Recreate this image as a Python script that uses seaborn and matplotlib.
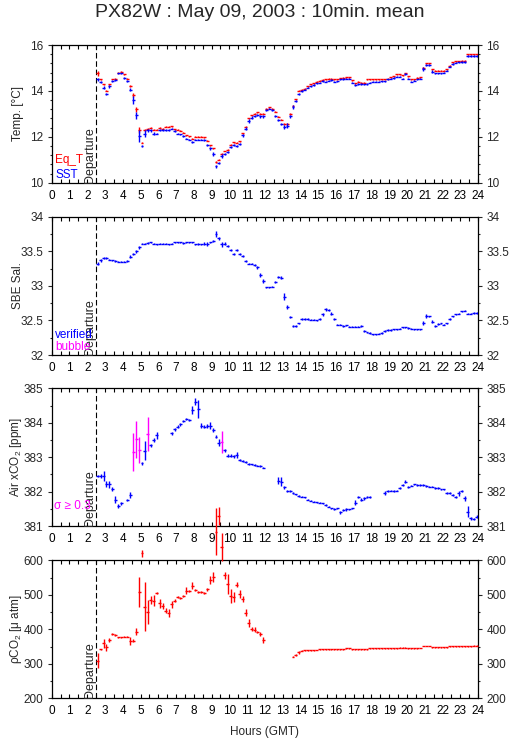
"""
PX82W underway record, 10-min means: temperature, salinity, air xCO2, pCO2.
Output: out.png
"""
import numpy as np
import matplotlib
matplotlib.use("Agg")
import matplotlib.pyplot as plt
from matplotlib.ticker import MultipleLocator
import seaborn as sns

sns.set_theme(style="ticks")
plt.rcParams["font.family"] = ["Liberation Sans", "DejaVu Sans"]
plt.rcParams["mathtext.fontset"] = "custom"
plt.rcParams["mathtext.rm"] = "Liberation Sans"
plt.rcParams["mathtext.it"] = "Liberation Sans:italic"
plt.rcParams["mathtext.default"] = "rm"

BLUE, RED, MAGENTA = "#0000FF", "#FF0000", "#FF00FF"
NAN = np.nan

# 10-minute bins from departure (02:30 GMT) to 24:00
START_HOUR = 2.5
BIN_H = 1 / 6
DEPARTURE = 2.5

# one row per hour (first row: 02:30-03:00)
SST = [
    14.50, 14.40, 14.14,
    13.86, 14.20, 14.44, 14.47, 14.76, 14.76,
    14.57, 14.44, 14.06, 13.60, 12.94, 12.03,
    11.60, 12.14, 12.28, 12.28, 12.14, 12.14,
    12.30, 12.28, 12.30, 12.30, 12.36, 12.26,
    12.14, 12.11, 12.03, 11.92, 11.88, 11.78,
    11.88, 11.88, 11.88, 11.86, 11.63, 11.49,
    11.24, 10.72, 10.86, 11.15, 11.24, 11.34,
    11.56, 11.66, 11.60, 11.70, 12.07, 12.36,
    12.70, 12.84, 12.90, 12.94, 12.90, 12.90,
    13.16, 13.23, 13.16, 12.90, 12.72, 12.55,
    12.43, 12.48, 12.90, 13.30, 13.57, 13.85,
    14.00, 14.06, 14.14, 14.20, 14.25, 14.33,
    14.36, 14.43, 14.40, 14.44, 14.47, 14.40,
    14.42, 14.50, 14.52, 14.54, 14.54, 14.36,
    14.25, 14.30, 14.30, 14.29, 14.30, 14.36,
    14.40, 14.40, 14.40, 14.42, 14.42, 14.50,
    14.54, 14.57, 14.62, 14.62, 14.54, 14.72,
    14.54, 14.40, 14.44, 14.50, 14.54, 14.94,
    15.13, 15.13, 14.84, 14.76, 14.76, 14.76,
    14.80, 14.88, 15.05, 15.17, 15.23, 15.25,
    15.27, 15.27, 15.52, 15.52, 15.52, 15.52,
]
SST_SD = [
    0.08, 0.05, 0.06,
    0.04, 0.07, 0.05, 0.05, 0.03, 0.03,
    0.05, 0.05, 0.06, 0.18, 0.15, 0.25,
    0.05, 0.14, 0.06, 0.05, 0.05, 0.04,
    0.04, 0.04, 0.03, 0.03, 0.04, 0.04,
    0.04, 0.03, 0.03, 0.03, 0.03, 0.05,
    0.03, 0.03, 0.03, 0.03, 0.05, 0.05,
    0.08, 0.06, 0.05, 0.08, 0.05, 0.04,
    0.04, 0.04, 0.06, 0.05, 0.07, 0.05,
    0.08, 0.06, 0.04, 0.04, 0.06, 0.06,
    0.04, 0.04, 0.04, 0.05, 0.04, 0.05,
    0.08, 0.10, 0.07, 0.10, 0.05, 0.05,
    0.03, 0.03, 0.03, 0.03, 0.03, 0.03,
    0.03, 0.03, 0.03, 0.03, 0.03, 0.03,
    0.03, 0.03, 0.03, 0.03, 0.03, 0.03,
    0.03, 0.03, 0.03, 0.03, 0.03, 0.03,
    0.03, 0.03, 0.03, 0.03, 0.03, 0.03,
    0.03, 0.03, 0.03, 0.03, 0.03, 0.04,
    0.03, 0.03, 0.03, 0.03, 0.03, 0.08,
    0.06, 0.04, 0.05, 0.03, 0.03, 0.03,
    0.03, 0.03, 0.03, 0.03, 0.03, 0.03,
    0.05, 0.04, 0.04, 0.03, 0.03, 0.03,
]
EQ_T = [
    14.76, 14.50, 14.28,
    14.00, 14.28, 14.52, 14.54, 14.80, 14.84,
    14.72, 14.54, 14.22, 13.82, 13.20, 12.30,
    11.74, 12.30, 12.36, 12.40, 12.30, 12.30,
    12.40, 12.36, 12.43, 12.43, 12.46, 12.32,
    12.30, 12.27, 12.17, 12.07, 12.02, 11.92,
    12.00, 12.00, 12.00, 11.97, 11.82, 11.63,
    11.49, 10.90, 11.00, 11.27, 11.38, 11.44,
    11.66, 11.76, 11.74, 11.80, 12.15, 12.43,
    12.80, 12.94, 13.00, 13.07, 13.00, 13.00,
    13.23, 13.28, 13.23, 13.09, 12.87, 12.75,
    12.55, 12.55, 13.00, 13.36, 13.63, 14.00,
    14.05, 14.10, 14.20, 14.28, 14.33, 14.40,
    14.44, 14.48, 14.50, 14.53, 14.53, 14.50,
    14.50, 14.56, 14.58, 14.60, 14.60, 14.47,
    14.33, 14.40, 14.36, 14.36, 14.50, 14.50,
    14.50, 14.50, 14.50, 14.50, 14.50, 14.54,
    14.60, 14.64, 14.72, 14.72, 14.68, 14.76,
    14.64, 14.50, 14.50, 14.57, 14.60, 15.00,
    15.20, 15.20, 14.94, 14.88, 14.88, 14.88,
    14.88, 14.94, 15.10, 15.24, 15.30, 15.30,
    15.32, 15.32, 15.60, 15.60, 15.60, 15.60,
]
EQ_T_SD = [
    0.10, 0.03, 0.03,
    0.02, 0.02, 0.02, 0.02, 0.02, 0.02,
    0.02, 0.02, 0.03, 0.08, 0.10, 0.12,
    0.03, 0.03, 0.02, 0.02, 0.02, 0.02,
    0.02, 0.02, 0.02, 0.02, 0.02, 0.02,
    0.02, 0.02, 0.02, 0.02, 0.02, 0.02,
    0.02, 0.02, 0.02, 0.02, 0.02, 0.02,
    0.03, 0.03, 0.02, 0.03, 0.02, 0.02,
    0.02, 0.02, 0.02, 0.02, 0.03, 0.02,
    0.03, 0.02, 0.02, 0.02, 0.02, 0.02,
    0.02, 0.02, 0.02, 0.02, 0.02, 0.02,
    0.03, 0.03, 0.03, 0.03, 0.02, 0.02,
    0.02, 0.02, 0.02, 0.02, 0.02, 0.02,
    0.02, 0.02, 0.02, 0.02, 0.02, 0.02,
    0.02, 0.02, 0.02, 0.02, 0.02, 0.02,
    0.02, 0.02, 0.02, 0.02, 0.02, 0.02,
    0.02, 0.02, 0.02, 0.02, 0.02, 0.02,
    0.02, 0.02, 0.02, 0.02, 0.02, 0.02,
    0.02, 0.02, 0.02, 0.02, 0.02, 0.03,
    0.02, 0.02, 0.02, 0.02, 0.02, 0.02,
    0.02, 0.02, 0.02, 0.02, 0.02, 0.02,
    0.02, 0.02, 0.02, 0.02, 0.02, 0.02,
]
SAL = [
    33.32, 33.37, 33.40,
    33.41, 33.38, 33.37, 33.36, 33.35, 33.35,
    33.35, 33.36, 33.42, 33.46, 33.50, 33.56,
    33.61, 33.61, 33.62, 33.63, 33.61, 33.60,
    33.61, 33.61, 33.61, 33.60, 33.61, 33.63,
    33.63, 33.63, 33.62, 33.63, 33.63, 33.63,
    33.60, 33.60, 33.60, 33.61, 33.61, 33.63,
    33.65, 33.75, 33.69, 33.60, 33.61, 33.58,
    33.52, 33.46, 33.52, 33.46, 33.43, 33.36,
    33.32, 33.32, 33.30, 33.27, 33.16, 33.07,
    32.98, 32.98, 32.99, 33.05, 33.13, 33.12,
    32.84, 32.70, 32.55, 32.42, 32.42, 32.46,
    32.52, 32.52, 32.52, 32.51, 32.51, 32.50,
    32.52, 32.59, 32.66, 32.65, 32.60, 32.52,
    32.44, 32.44, 32.42, 32.43, 32.41, 32.41,
    32.41, 32.41, 32.42, 32.35, 32.33, 32.32,
    32.30, 32.30, 32.31, 32.32, 32.35, 32.36,
    32.36, 32.37, 32.37, 32.38, 32.40, 32.40,
    32.39, 32.38, 32.37, 32.37, 32.37, 32.46,
    32.56, 32.56, 32.48, 32.42, 32.45, 32.46,
    32.44, 32.46, 32.52, 32.56, 32.59, 32.60,
    32.63, 32.64, 32.60, 32.60, 32.61, 32.61,
]
SAL_SD = [
    0.02, 0.02, 0.015,
    0.015, 0.01, 0.01, 0.01, 0.01, 0.01,
    0.01, 0.01, 0.02, 0.02, 0.02, 0.02,
    0.01, 0.01, 0.01, 0.01, 0.01, 0.01,
    0.01, 0.01, 0.01, 0.01, 0.01, 0.01,
    0.01, 0.01, 0.01, 0.01, 0.01, 0.01,
    0.01, 0.015, 0.01, 0.02, 0.03, 0.01,
    0.015, 0.04, 0.02, 0.04, 0.02, 0.015,
    0.02, 0.02, 0.02, 0.02, 0.015, 0.01,
    0.01, 0.01, 0.015, 0.02, 0.03, 0.03,
    0.01, 0.01, 0.01, 0.015, 0.02, 0.02,
    0.05, 0.03, 0.015, 0.02, 0.01, 0.01,
    0.01, 0.01, 0.01, 0.01, 0.01, 0.01,
    0.01, 0.02, 0.02, 0.01, 0.015, 0.01,
    0.01, 0.01, 0.01, 0.01, 0.01, 0.01,
    0.01, 0.01, 0.01, 0.01, 0.01, 0.01,
    0.01, 0.01, 0.01, 0.01, 0.01, 0.01,
    0.01, 0.01, 0.01, 0.01, 0.01, 0.01,
    0.01, 0.01, 0.01, 0.01, 0.01, 0.03,
    0.03, 0.01, 0.02, 0.01, 0.01, 0.01,
    0.01, 0.01, 0.01, 0.01, 0.01, 0.01,
    0.01, 0.01, 0.01, 0.01, 0.01, 0.01,
]
XCO2 = [
    382.45, 382.45, 382.45,
    382.22, 382.21, 382.08, 381.76, 381.58, 381.66,
    NAN, 381.76, 381.90, 383.16, 383.52, 383.20,
    382.82, 383.19, 383.67, 383.34, 383.50, 383.64,
    NAN, NAN, NAN, NAN, 383.69, 383.81,
    383.89, 383.96, 384.04, 384.10, 384.08, 384.37,
    384.61, 384.39, 383.91, 383.89, 383.91, 383.91,
    383.79, 383.60, 383.42, 383.45, 383.20, 383.04,
    383.04, 383.03, 383.06, 382.92, 382.89, 382.85,
    382.80, 382.79, 382.77, 382.75, 382.74, 382.70,
    NAN, NAN, NAN, NAN, 382.31, 382.29,
    382.12, 382.02, 382.02, 381.95, 381.92, 381.87,
    381.85, 381.83, 381.77, 381.74, 381.71, 381.69,
    381.68, 381.66, 381.61, 381.56, 381.51, 381.49,
    381.51, 381.40, 381.46, 381.48, 381.48, 381.51,
    381.68, 381.83, 381.77, 381.80, 381.83, 381.83,
    NAN, NAN, NAN, NAN, 381.95, 382.02,
    382.03, 382.02, 382.03, 382.10, 382.19, 382.29,
    382.14, 382.17, 382.21, 382.19, 382.19, 382.19,
    382.16, 382.14, 382.14, 382.11, 382.10, 382.07,
    382.07, 381.97, 381.97, 381.90, 381.83, 381.95,
    382.02, 381.80, 381.42, 381.22, 381.20, 381.27,
]
XCO2_SD = [
    0.04, 0.05, 0.15,
    0.10, 0.10, 0.05, 0.10, 0.05, 0.04,
    NAN, 0.03, 0.10, 0.55, 0.53, 0.38,
    0.05, 0.28, 0.50, 0.05, 0.05, 0.10,
    NAN, NAN, NAN, NAN, 0.05, 0.04,
    0.04, 0.04, 0.03, 0.03, 0.04, 0.12,
    0.10, 0.26, 0.07, 0.05, 0.05, 0.10,
    0.05, 0.05, 0.10, 0.32, 0.05, 0.04,
    0.04, 0.04, 0.08, 0.03, 0.03, 0.03,
    0.02, 0.02, 0.02, 0.02, 0.02, 0.02,
    NAN, NAN, NAN, NAN, 0.10, 0.12,
    0.05, 0.03, 0.03, 0.03, 0.02, 0.02,
    0.02, 0.02, 0.02, 0.02, 0.02, 0.02,
    0.02, 0.02, 0.02, 0.02, 0.02, 0.02,
    0.02, 0.05, 0.02, 0.03, 0.02, 0.02,
    0.08, 0.03, 0.04, 0.03, 0.03, 0.03,
    NAN, NAN, NAN, NAN, 0.06, 0.03,
    0.02, 0.02, 0.02, 0.03, 0.03, 0.05,
    0.03, 0.02, 0.02, 0.02, 0.02, 0.02,
    0.02, 0.02, 0.02, 0.02, 0.02, 0.02,
    0.02, 0.03, 0.03, 0.04, 0.03, 0.08,
    0.04, 0.08, 0.15, 0.05, 0.03, 0.04,
]
PCO2 = [
    309, 342, 359,
    348, 369, 386, 383, 377, 377,
    379, 379, 367, 367, 393, 509,
    620, 466, 451, 485, 483, 504,
    475, 468, 454, 448, 473, 483,
    493, 490, 497, 512, 511, 526,
    514, 509, 508, 504, 516, 543,
    551, 683, 728, 639, 557, 531,
    497, 493, 529, 502, 488, 448,
    418, 401, 399, 392, 386, 369,
    NAN, NAN, NAN, NAN, NAN, NAN,
    NAN, NAN, NAN, 321, 326, 333,
    338, 339, 339, 339, 339, 340,
    342, 342, 342, 342, 342, 342,
    342, 342, 342, 345, 345, 342,
    342, 342, 342, 342, 342, 345,
    345, 345, 345, 345, 345, 345,
    345, 345, 345, 347, 347, 347,
    345, 345, 345, 345, 346, 352,
    352, 352, 348, 348, 348, 348,
    348, 348, 351, 351, 351, 351,
    351, 351, 351, 351, 353, 353,
]
PCO2_SD = [
    22, 2, 13,
    10, 5, 3, 2, 2, 2,
    2, 2, 12, 5, 10, 43,
    10, 70, 35, 12, 15, 3,
    12, 8, 8, 12, 10, 5,
    3, 3, 3, 10, 4, 10,
    4, 3, 3, 3, 4, 12,
    15, 68, 27, 40, 10, 30,
    20, 15, 7, 12, 8, 10,
    12, 5, 8, 4, 5, 8,
    NAN, NAN, NAN, NAN, NAN, NAN,
    NAN, NAN, NAN, 2, 2, 5,
    2, 1, 1, 1, 1, 1,
    1, 1, 1, 1, 1, 1,
    1, 1, 1, 1, 1, 1,
    1, 1, 1, 1, 1, 1,
    1, 1, 1, 1, 1, 1,
    1, 1, 1, 1, 1, 1,
    1, 1, 1, 1, 1, 1,
    1, 1, 1, 1, 1, 1,
    1, 1, 1, 1, 1, 1,
    1, 1, 1, 1, 1, 1,
]
SIGMA_FLAG = 0.3

# panel y ranges, major / minor tick steps
PANELS = [
    dict(ylabel="Temp. [°C]", ylim=(10, 16), major=2, minor=0.4),
    dict(ylabel="SBE Sal.", ylim=(32, 34), major=0.5, minor=0.25),
    dict(ylabel="Air xCO$_2$ [ppm]", ylim=(381, 385), major=1, minor=0.5),
    dict(ylabel="ρCO$_2$ [μ atm]", ylim=(200, 600), major=100, minor=50),
]
# axes boxes in figure fraction (left, bottom, width, height)
BOXES = [
    (0.1004, 0.7528, 0.8278, 0.1863),
    (0.1004, 0.5196, 0.8278, 0.1871),
    (0.1004, 0.2882, 0.8278, 0.1863),
    (0.1004, 0.0551, 0.8278, 0.1867),
]


def fmt_tick(v, _pos):
    return f"{v:g}"


def bars(ax, x, y, sd, color, clip=True):
    eb = ax.errorbar(x, y, xerr=BIN_H / 2, yerr=sd, fmt="none",
                     ecolor=color, elinewidth=1.0, capsize=0, zorder=3)
    if not clip:
        for coll in eb.lines[2]:
            coll.set_clip_on(False)
    return eb


def main():
    hours = START_HOUR + BIN_H / 2 + np.arange(len(SST)) * BIN_H

    fig = plt.figure(figsize=(5.15, 7.39), dpi=100)
    axes = [fig.add_axes(b) for b in BOXES]

    for ax, p in zip(axes, PANELS):
        ax.set_xlim(0, 24)
        ax.set_ylim(*p["ylim"])
        ax.xaxis.set_major_locator(MultipleLocator(1))
        ax.xaxis.set_minor_locator(MultipleLocator(0.5))
        ax.yaxis.set_major_locator(MultipleLocator(p["major"]))
        ax.yaxis.set_minor_locator(MultipleLocator(p["minor"]))
        ax.yaxis.set_major_formatter(fmt_tick)
        ax.tick_params(axis="x", which="both", direction="in", top=True,
                       bottom=True, length=3, width=0.8, labelsize=8.5, pad=5,
                       colors="black")
        ax.tick_params(axis="y", which="major", direction="out", left=True,
                       right=True, labelleft=True, labelright=True,
                       length=3, width=0.8, labelsize=8.5, pad=3)
        ax.tick_params(axis="y", which="minor", direction="out", left=True,
                       right=True, length=1.6, width=0.8)
        for s in ax.spines.values():
            s.set_linewidth(0.9)
            s.set_color("black")
        ax.set_ylabel(p["ylabel"], fontsize=8.5)
        ax.yaxis.set_label_coords(-0.064, 0.5)
        ax.axvline(DEPARTURE, color="black", lw=0.8, ls=(0, (5, 2.5)), zorder=2)
        ax.text(DEPARTURE, p["ylim"][0], "Departure", rotation=90,
                ha="right", va="bottom", fontsize=9)
        ax.grid(False)

    # temperature
    ax = axes[0]
    bars(ax, hours, EQ_T, EQ_T_SD, RED)
    bars(ax, hours, SST, SST_SD, BLUE)
    ax.text(0.008, 0.14, "Eq_T", color=RED, transform=ax.transAxes, fontsize=8.5)
    ax.text(0.008, 0.035, "SST", color=BLUE, transform=ax.transAxes, fontsize=8.5)

    # salinity
    ax = axes[1]
    bars(ax, hours, SAL, SAL_SD, BLUE)
    ax.text(0.008, 0.125, "verified", color=BLUE, transform=ax.transAxes, fontsize=8.5)
    ax.text(0.008, 0.035, "bubble", color=MAGENTA, transform=ax.transAxes, fontsize=8.5)

    # air xCO2, flagged when sigma >= 0.3
    ax = axes[2]
    xco2 = np.array(XCO2)
    xsd = np.array(XCO2_SD)
    flag = xsd >= SIGMA_FLAG
    bars(ax, hours, np.where(flag, np.nan, xco2), xsd, BLUE)
    bars(ax, hours, np.where(flag, xco2, np.nan), xsd, MAGENTA)
    ax.text(0.006, 0.125, "σ ≥ 0.3", color=MAGENTA, transform=ax.transAxes, fontsize=8.5)

    # pCO2 (not clipped at the top)
    ax = axes[3]
    bars(ax, hours, PCO2, PCO2_SD, RED, clip=False)
    ax.set_xlabel("Hours (GMT)", fontsize=8.5)
    ax.xaxis.set_label_coords(0.5, -0.2)

    fig.text(0.504, 0.983, "PX82W : May 09, 2003 : 10min. mean",
             ha="center", va="center", fontsize=14)

    fig.savefig("out.png", dpi=100)
    plt.close(fig)


if __name__ == "__main__":
    main()
